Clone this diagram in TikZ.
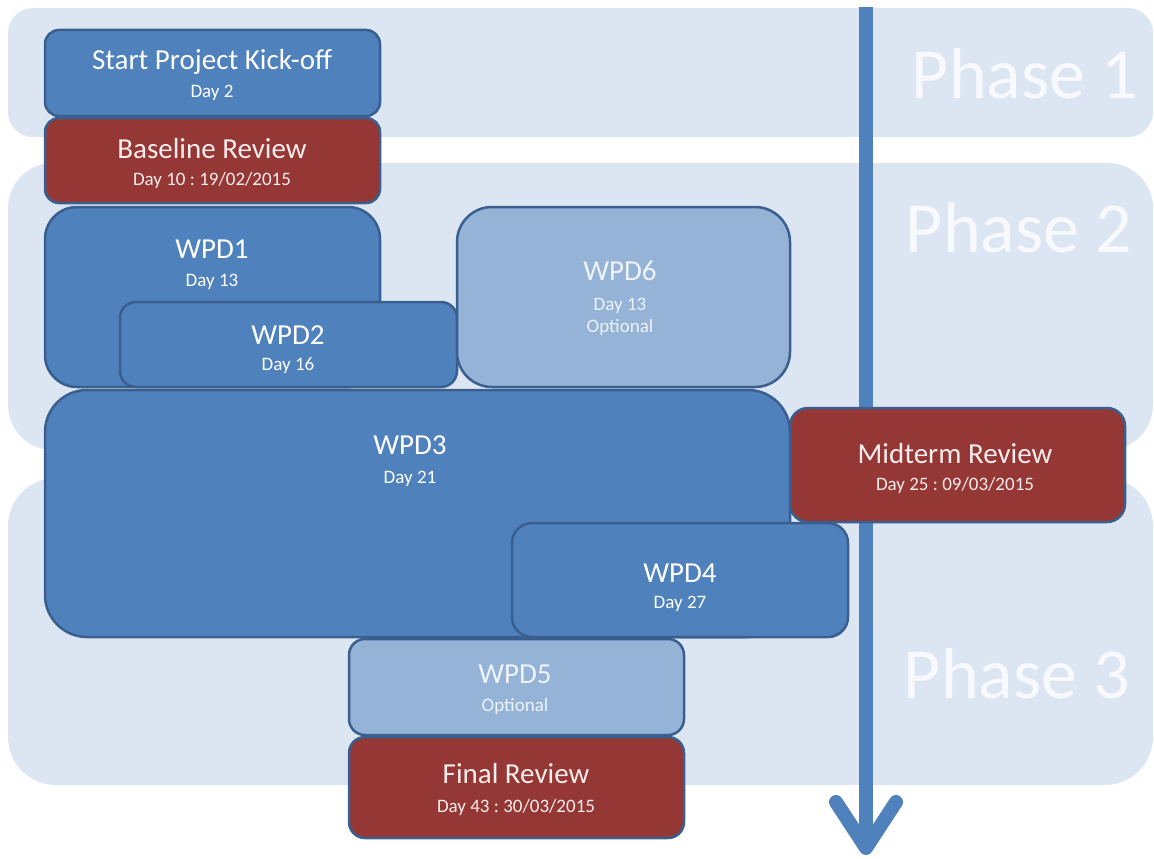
\documentclass[tikz,border=0pt]{standalone}
\usepackage{fontspec}
\setmainfont{Carlito}
\frenchspacing
\definecolor{bandc}{HTML}{DCE6F2}
\definecolor{bluef}{HTML}{4F81BD}
\definecolor{blued}{HTML}{3A5F8E}
\definecolor{lightf}{HTML}{95B3D7}
\definecolor{redf}{HTML}{953735}
\definecolor{lighttext}{HTML}{EEF3FA}
\definecolor{redtext}{HTML}{FAEDED}
\definecolor{phasetext}{HTML}{F7F9FC}
\tikzset{
  box/.style={draw=blued, line width=2.5pt, inner sep=0pt, rectangle},
  bluebox/.style={box, fill=bluef},
  lightbox/.style={box, fill=lightf},
  redbox/.style={box, fill=redf},
  ttl/.style={inner sep=0pt, anchor=base, font=\fontsize{29}{32}\selectfont},
  sub/.style={inner sep=0pt, anchor=base, font=\fontsize{19}{21}\selectfont},
  phase/.style={inner sep=0pt, anchor=base, text=phasetext, font=\fontsize{72}{76}\selectfont},
  timeline/.style={bluef, line width=14pt, line cap=round, line join=round}
}
\begin{document}
\begin{tikzpicture}[x=1pt,y=-1pt]
\useasboundingbox (0,0) rectangle (1154,859);
% phase bands
\fill[bandc, rounded corners=25pt] (8,8) rectangle (1153,137);
\fill[bandc, rounded corners=45pt] (8,163) rectangle (1153,450);
\fill[bandc, rounded corners=48pt] (8,478) rectangle (1153,785);
\node[phase] (p1) at (1025,98) {Phase 1};
\node[phase] (p2) at (1019,252) {Phase 2};
\node[phase] (p3) at (1017,698) {Phase 3};
% timeline arrow
\coordinate (atop) at (866,7);
\coordinate (atip) at (866,848);
\coordinate (aleft) at (836,802);
\coordinate (aright) at (896,802);
\draw[bluef, line width=14pt] (atop) -- (atip);
\draw[timeline] (aleft) -- (atip) -- (aright);
% boxes
\node[bluebox, rounded corners=14pt, minimum width=335pt, minimum height=86pt] (start) at (212.5,73) {};
\node[redbox, rounded corners=14pt, minimum width=335pt, minimum height=85pt] (base) at (212.5,160.5) {};
\node[bluebox, rounded corners=32pt, minimum width=335pt, minimum height=180pt] (wpd1) at (212.5,297) {};
\node[bluebox, rounded corners=16pt, minimum width=337pt, minimum height=85pt] (wpd2) at (288.5,344.5) {};
\node[lightbox, rounded corners=35pt, minimum width=333pt, minimum height=180pt] (wpd6) at (623.5,297) {};
\node[bluebox, rounded corners=42pt, minimum width=745pt, minimum height=247pt] (wpd3) at (417.5,513.5) {};
\node[redbox, rounded corners=18pt, minimum width=335pt, minimum height=114pt] (mid) at (957.5,465) {};
\node[bluebox, rounded corners=20pt, minimum width=336pt, minimum height=114pt] (wpd4) at (680,580) {};
\node[lightbox, rounded corners=16pt, minimum width=335pt, minimum height=96pt] (wpd5) at (516.5,687) {};
\node[redbox, rounded corners=16pt, minimum width=335pt, minimum height=101pt] (final) at (516.5,787.5) {};
% texts
\node[ttl, text=white] (tstart) at (212,70) {Start Project Kick-off};
\node[sub, text=white] (sstart) at (212,97) {Day 2};
\node[ttl, text=redtext] (tbase) at (212,158) {Baseline Review};
\node[sub, text=redtext] (sbase) at (212,185) {Day 10 : 19/02/2015};
\node[ttl, text=white] (twpd1) at (212,258) {WPD1};
\node[sub, text=white] (swpd1) at (212,286) {Day 13};
\node[ttl, text=white] (twpd2) at (288,344) {WPD2};
\node[sub, text=white] (swpd2) at (288,370) {Day 16};
\node[ttl, text=lighttext] (twpd6) at (620,280) {WPD6};
\node[sub, text=lighttext] (swpd6) at (620,310) {Day 13};
\node[sub, text=lighttext] (owpd6) at (620,332) {Optional};
\node[ttl, text=white] (twpd3) at (410,454) {WPD3};
\node[sub, text=white] (swpd3) at (410,483) {Day 21};
\node[ttl, text=redtext] (tmid) at (955,463) {Midterm Review};
\node[sub, text=redtext] (smid) at (955,490) {Day 25 : 09/03/2015};
\node[ttl, text=white] (twpd4) at (680,582) {WPD4};
\node[sub, text=white] (swpd4) at (680,608) {Day 27};
\node[ttl, text=lighttext] (twpd5) at (515,683) {WPD5};
\node[sub, text=lighttext] (owpd5) at (515,711) {Optional};
\node[ttl, text=redtext] (tfinal) at (516,783) {Final Review};
\node[sub, text=redtext] (sfinal) at (516,812) {Day 43 : 30/03/2015};
\end{tikzpicture}
\end{document}
